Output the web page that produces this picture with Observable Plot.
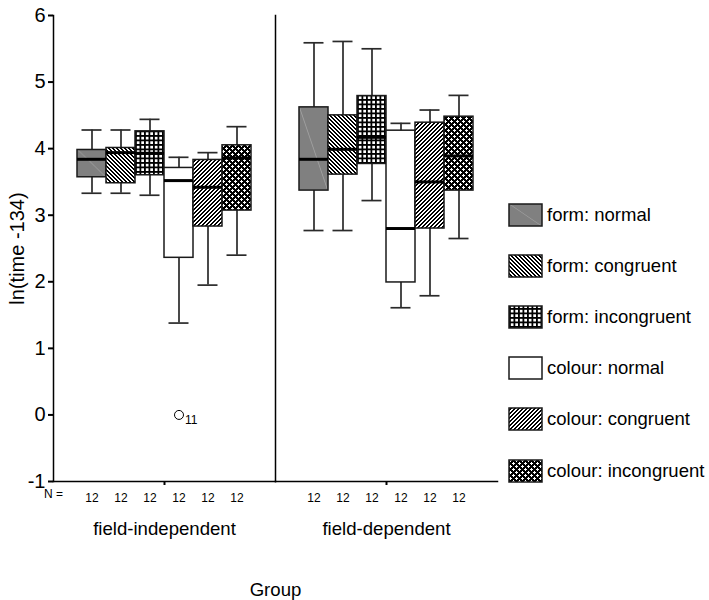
<!DOCTYPE html>
<html>
<head>
<meta charset="utf-8">
<script src="https://cdn.jsdelivr.net/npm/d3@7"></script>
<script src="https://cdn.jsdelivr.net/npm/@observablehq/plot@0.6"></script>
<style>
  body { margin: 0; background: #fff; }
  #chart svg { overflow: visible; }
</style>
</head>
<body>
<div id="chart"></div>
<script>
// ---------- data ----------
const groups = ["field-independent", "field-dependent"];
const conditions = ["form: normal", "form: congruent", "form: incongruent",
                    "colour: normal", "colour: congruent", "colour: incongruent"];
const nPerBox = [12, 12, 12, 12, 12, 12];
const yTicks = [-1, 0, 1, 2, 3, 4, 5, 6];

// field-independent
const indepLow  = [3.33, 3.33, 3.30, 1.38, 1.95, 2.40];
const indepQ1   = [3.57, 3.48, 3.60, 2.36, 2.83, 3.07];
const indepMed  = [3.84, 3.94, 3.93, 3.52, 3.42, 3.86];
const indepQ3   = [3.98, 4.01, 4.26, 3.71, 3.83, 4.05];
const indepHigh = [4.28, 4.28, 4.44, 3.87, 3.94, 4.33];

// field-dependent
const depLow  = [2.77, 2.77, 3.22, 1.61, 1.79, 2.65];
const depQ1   = [3.37, 3.61, 3.77, 1.99, 2.80, 3.37];
const depMed  = [3.84, 3.99, 4.17, 2.80, 3.50, 3.89];
const depQ3   = [4.62, 4.50, 4.79, 4.27, 4.39, 4.48];
const depHigh = [5.59, 5.61, 5.50, 4.38, 4.58, 4.80];

// outliers
const outlierGroup = ["field-independent"];
const outlierCondition = ["colour: normal"];
const outlierValue = [0];
const outlierCase = ["11"];

// ---------- build tables ----------
const stats = [
  {low: indepLow, q1: indepQ1, med: indepMed, q3: indepQ3, high: indepHigh},
  {low: depLow, q1: depQ1, med: depMed, q3: depQ3, high: depHigh}
];
const patternIds = ["p-form-normal", "p-form-congruent", "p-form-incongruent",
                    "p-colour-normal", "p-colour-congruent", "p-colour-incongruent"];
const boxes = [];
groups.forEach((g, gi) => conditions.forEach((c, ci) => boxes.push({
  group: g, cond: c,
  low: stats[gi].low[ci], q1: stats[gi].q1[ci], med: stats[gi].med[ci],
  q3: stats[gi].q3[ci], high: stats[gi].high[ci],
  fill: `url(#${patternIds[ci]})`
})));
const outliers = outlierValue.map((v, i) => ({
  group: outlierGroup[i], cond: outlierCondition[i], value: v, label: outlierCase[i]
}));
const nLookup = new Map(conditions.map((c, i) => [c, nPerBox[i]]));

const font = "'Liberation Sans', Arial, Helvetica, sans-serif";
const ink = "#1a1a1a";

const chart = Plot.plot({
  width: 709,
  height: 600,
  marginLeft: 53,
  marginRight: 212,
  marginTop: 15,
  marginBottom: 119,
  style: {fontFamily: font, background: "#fff", color: "#000"},
  fx: {domain: groups, paddingInner: 0, paddingOuter: 0},
  x: {domain: conditions, paddingInner: 0, paddingOuter: 0.75},
  y: {domain: [-1, 6]},
  color: {type: "identity"},
  marks: [
    Plot.ruleX(boxes, {fx: "group", x: "cond", y1: "low", y2: "high", stroke: "#2a2a2a", strokeWidth: 1.7}),
    Plot.tickY(boxes, {fx: "group", x: "cond", y: "low", stroke: "#2a2a2a", strokeWidth: 1.7, insetLeft: 4.5, insetRight: 4.5}),
    Plot.tickY(boxes, {fx: "group", x: "cond", y: "high", stroke: "#2a2a2a", strokeWidth: 1.7, insetLeft: 4.5, insetRight: 4.5}),
    Plot.barY(boxes, {fx: "group", x: "cond", y1: "q1", y2: "q3", fill: "fill", stroke: ink, strokeWidth: 1.5}),
    Plot.tickY(boxes, {fx: "group", x: "cond", y: "med", stroke: "#000", strokeWidth: 3}),
    Plot.dot(outliers, {fx: "group", x: "cond", y: "value", r: 4.5, fill: "#fff", stroke: "#000", strokeWidth: 1}),
    Plot.text(outliers, {fx: "group", x: "cond", y: "value", text: "label", dx: 6, dy: 5, textAnchor: "start", fontSize: 12, fill: "#000"}),
    Plot.frame({anchor: "left", stroke: "#000", strokeWidth: 1.5}),
    Plot.frame({anchor: "bottom", stroke: "#000", strokeWidth: 1.5}),
    Plot.text([{group: groups[0], label: "N ="}], {fx: "group", text: "label", frameAnchor: "bottom-left", dy: 16, textAnchor: "middle", fontSize: 12, fill: "#000"}),
    Plot.axisY({ticks: yTicks, tickFormat: d => String(d), tickSize: 5, tickPadding: 3, strokeWidth: 2, fontSize: 20, fill: "#000",
      label: "ln(time -134)", labelAnchor: "center", labelOffset: 44, labelArrow: "none"}),
    Plot.axisX({tickSize: 0, tickPadding: 12, fontSize: 12, fill: "#000", tickFormat: d => String(nLookup.get(d)), label: null}),
    Plot.axisFx({anchor: "bottom", tickSize: 4, tickPadding: 36, strokeWidth: 2, fontSize: 18.6, fill: "#000",
      label: "Group", labelAnchor: "center", labelOffset: 114, labelArrow: "none"})
  ]
});

// ---------- fill patterns ----------
const svg = d3.select(chart.tagName.toLowerCase() === "svg" ? chart : chart.querySelector("svg"));
const defs = svg.insert("defs", ":first-child");
const crispRect = (p, x, y, w, h, fill) =>
  p.append("rect").attr("x", x).attr("y", y).attr("width", w).attr("height", h)
   .attr("fill", fill).attr("shape-rendering", "crispEdges");

// form: normal — gray with faint corner-to-corner light line
const p0 = defs.append("pattern").attr("id", patternIds[0])
  .attr("patternUnits", "objectBoundingBox").attr("patternContentUnits", "objectBoundingBox")
  .attr("width", 1).attr("height", 1);
p0.append("rect").attr("width", 1).attr("height", 1).attr("fill", "#808080");
p0.append("polygon").attr("points", "0,0 0.025,0 1,1 0.975,1").attr("fill", "#a8a8a8");

// form: congruent — "\" stripes (pixel staircase, 50% black)
const p1 = defs.append("pattern").attr("id", patternIds[1])
  .attr("patternUnits", "userSpaceOnUse").attr("width", 4).attr("height", 4);
crispRect(p1, 0, 0, 4, 4, "#fff");
crispRect(p1, 0, 0, 2, 1, "#000");
crispRect(p1, 1, 1, 2, 1, "#000");
crispRect(p1, 2, 2, 2, 1, "#000");
crispRect(p1, 3, 3, 1, 1, "#000");
crispRect(p1, 0, 3, 1, 1, "#000");

// form: incongruent — grid
const p2 = defs.append("pattern").attr("id", patternIds[2])
  .attr("patternUnits", "userSpaceOnUse").attr("width", 4.5).attr("height", 4.5);
crispRect(p2, 0, 0, 4.5, 4.5, "#fff");
crispRect(p2, 0, 0, 4.5, 2, "#000");
crispRect(p2, 0, 0, 2, 4.5, "#000");

// colour: normal — white
const p3 = defs.append("pattern").attr("id", patternIds[3])
  .attr("patternUnits", "userSpaceOnUse").attr("width", 4).attr("height", 4);
crispRect(p3, 0, 0, 4, 4, "#fff");

// colour: congruent — "/" stripes (pixel staircase, 50% black)
const p4 = defs.append("pattern").attr("id", patternIds[4])
  .attr("patternUnits", "userSpaceOnUse").attr("width", 4).attr("height", 4);
crispRect(p4, 0, 0, 4, 4, "#fff");
crispRect(p4, 2, 0, 2, 1, "#000");
crispRect(p4, 1, 1, 2, 1, "#000");
crispRect(p4, 0, 2, 2, 1, "#000");
crispRect(p4, 0, 3, 1, 1, "#000");
crispRect(p4, 3, 3, 1, 1, "#000");

// colour: incongruent — black with white crosses
const p5 = defs.append("pattern").attr("id", patternIds[5])
  .attr("patternUnits", "userSpaceOnUse").attr("width", 6).attr("height", 6);
crispRect(p5, 0, 0, 6, 6, "#000");
crispRect(p5, 0, 1, 3, 1, "#fff");
crispRect(p5, 1, 0, 1, 3, "#fff");
crispRect(p5, 3, 4, 3, 1, "#fff");
crispRect(p5, 4, 3, 1, 3, "#fff");

// ---------- legend (right of the plot) ----------
const legend = svg.append("g").attr("font-family", font).attr("font-size", 18.5).attr("text-anchor", "start");
const item = legend.selectAll("g").data(conditions).join("g")
  .attr("transform", (d, i) => `translate(509, ${Math.round(214.5 + i * 51.2)})`);
item.append("rect").attr("x", 0).attr("y", -11).attr("width", 33).attr("height", 22)
  .attr("fill", (d, i) => `url(#${patternIds[i]})`).attr("stroke", ink).attr("stroke-width", 1.5);
item.append("text").attr("x", 38).attr("y", 0).attr("dy", "0.35em").attr("text-anchor", "start")
  .attr("fill", "#000").text(d => d);

document.getElementById("chart").appendChild(chart);
</script>
</body>
</html>
